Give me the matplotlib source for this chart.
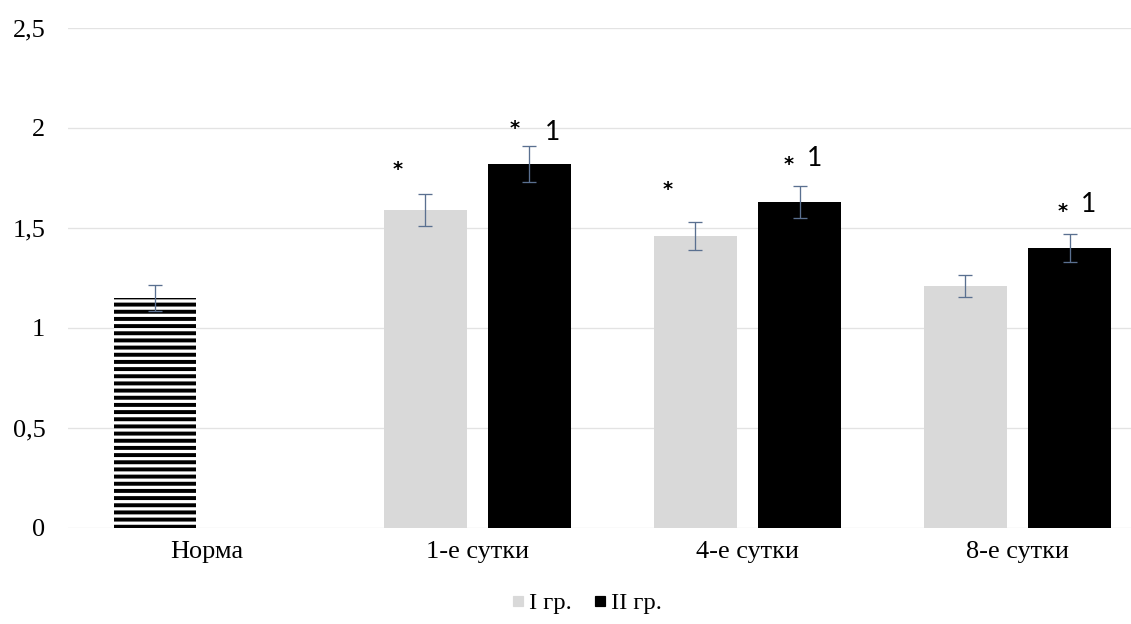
import numpy as np
import matplotlib
matplotlib.use('Agg')
import matplotlib.pyplot as plt
from matplotlib.lines import Line2D

# values
categories = ['Норма', '1-е сутки', '4-е сутки', '8-е сутки']
group1 = [1.15, 1.59, 1.46, 1.21]
group1_err = [0.065, 0.08, 0.07, 0.055]
group2 = [np.nan, 1.82, 1.63, 1.40]
group2_err = [np.nan, 0.09, 0.08, 0.07]
series_names = ['I гр.', 'II гр.']
yticks = [0, 0.5, 1, 1.5, 2, 2.5]
ytick_labels = ['0', '0,5', '1', '1,5', '2', '2,5']

# significance marks: (text, x, y) in data units
marks = [
    ('*', 0.706, 1.817),
    ('*', 1.137, 2.02),
    ('1', 1.277, 1.976),
    ('*', 1.703, 1.715),
    ('*', 2.152, 1.84),
    ('1', 2.248, 1.845),
    ('*', 3.167, 1.607),
    ('1', 3.262, 1.615),
]

DPI = 86
plt.rcParams['font.family'] = ['Liberation Serif', 'DejaVu Serif']
plt.rcParams['hatch.linewidth'] = 3.3

fig = plt.figure(figsize=(1131 / DPI, 624 / DPI), dpi=DPI)
ax = fig.add_axes([68 / 1131, 1 - 528 / 624, 1 - 68 / 1131, 500 / 624])

x = np.arange(len(categories))
w = 0.307
off = 0.193
light = '#d9d9d9'
err_color = '#5a7090'

bars1 = ax.bar(x - off, group1, w, color=light, zorder=2)
# the norm bar is drawn with horizontal stripes
bars1[0].set_facecolor('white')
bars1[0].set_edgecolor('black')
bars1[0].set_hatch('--')
bars1[0].set_linewidth(0)
ax.bar(x + off, group2, w, color='black', zorder=2)

ekw = dict(fmt='none', ecolor=err_color, elinewidth=1.1, capsize=6, capthick=1.1, zorder=3)
ax.errorbar(x - off, group1, yerr=group1_err, **ekw)
ax.errorbar(x + off, group2, yerr=group2_err, **ekw)

for txt, mx, my in marks:
    if txt == '*':
        ax.text(mx, my - 0.022, txt, ha='center', va='center', fontsize=16,
                family='DejaVu Sans', weight='bold')
    else:
        ax.text(mx, my, txt, ha='center', va='center', fontsize=22, family='Lato')

ax.set_ylim(0, 2.5)
ax.set_xlim(-0.515, 3.42)
ax.set_yticks(yticks)
ax.set_yticklabels(ytick_labels)
ax.set_xticks(x)
ax.set_xticklabels(categories)
ax.tick_params(axis='both', length=0, labelsize=22)
ax.tick_params(axis='y', pad=19)
ax.tick_params(axis='x', pad=11)
ax.grid(axis='y', color='#e3e3e3', linewidth=1.1, zorder=0)
ax.set_axisbelow(True)
for s in ax.spines.values():
    s.set_visible(False)

handles = [
    Line2D([], [], marker='s', linestyle='none', markersize=9, color=light),
    Line2D([], [], marker='s', linestyle='none', markersize=9, color='black'),
]
fig.legend(handles, series_names, loc='lower center', bbox_to_anchor=(0.518, -0.02),
           ncol=2, frameon=False, fontsize=20.5, handletextpad=0.1, columnspacing=0.8,
           handlelength=0.7)

fig.savefig('out.png', dpi=DPI)
